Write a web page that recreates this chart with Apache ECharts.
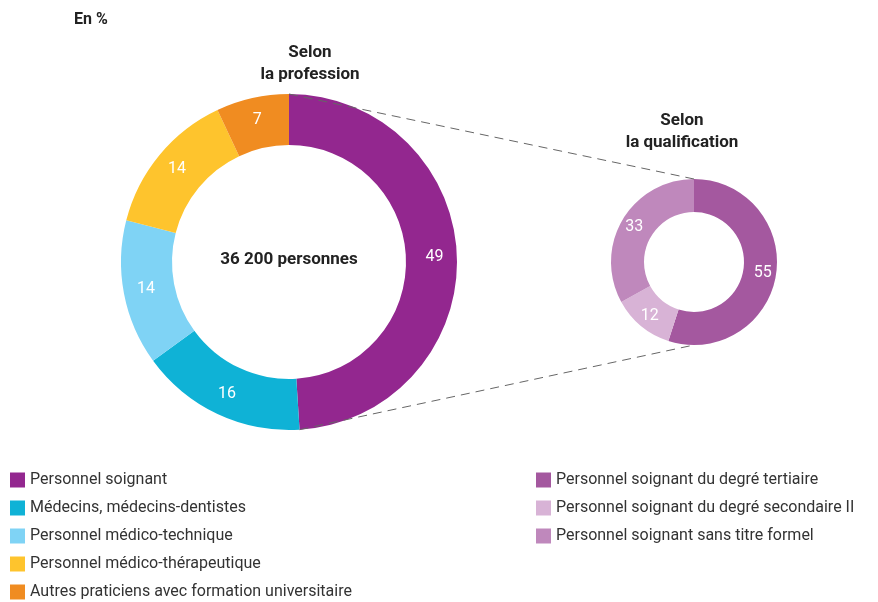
<!DOCTYPE html>
<html>
<head>
<meta charset="utf-8">
<script src="https://cdn.jsdelivr.net/npm/echarts@6/dist/echarts.min.js"></script>
<style>
	html, body { margin: 0; padding: 0; background: #fff; }
	#chart { width: 878px; height: 602px; }
</style>
</head>
<body>
<div id="chart"></div>
<script>
const professions = [
	'Personnel soignant',
	'Médecins, médecins-dentistes',
	'Personnel médico-technique',
	'Personnel médico-thérapeutique',
	'Autres praticiens avec formation universitaire'
]
const professionValues = [49, 16, 14, 14, 7]
const professionColors = ['#93278f', '#0fb2d6', '#7fd3f5', '#fec42d', '#f08c21']

const qualifications = [
	'Personnel soignant du degré tertiaire',
	'Personnel soignant du degré secondaire II',
	'Personnel soignant sans titre formel'
]
const qualificationValues = [55, 12, 33]
const qualificationColors = ['#a4589f', '#d8b3d6', '#bf88bc']

const font = 'Roboto, sans-serif'

// geometry of both rings
const big = { cx: 289, cy: 262, r: 168, r0: 117 }
const small = { cx: 694, cy: 262, r: 83, r0: 50 }

const node = document.getElementById('chart')
const myChart = echarts.init(node)

const ringLabel = {
	show: true,
	position: 'inside',
	formatter: '{c}',
	color: '#fff',
	fontSize: 16,
	fontFamily: font
}

// end of the first slice (Personnel soignant) on the outer edge
const total = professionValues.reduce((a, b) => a + b, 0)
const endAngle = (90 - professionValues[0] / total * 360) * Math.PI / 180
const endX = big.cx + big.r * Math.cos(endAngle)
const endY = big.cy - big.r * Math.sin(endAngle)

const dashed = (x1, y1, x2, y2) => ({
	type: 'line',
	shape: { x1, y1, x2, y2 },
	style: { stroke: '#666', lineWidth: 1, lineDash: [9, 6] },
	z: 10
})

const legendText = { fontSize: 16, lineHeight: 16, color: '#333', fontFamily: font }

const option = {
	animation: false,
	textStyle: { fontFamily: font },
	legend: [
		{
			orient: 'vertical',
			left: 10,
			top: 472,
			padding: 0,
			itemWidth: 15,
			itemHeight: 15,
			itemGap: 12,
			icon: 'rect',
			textStyle: legendText,
			data: professions
		},
		{
			orient: 'vertical',
			left: 536,
			top: 472,
			padding: 0,
			itemWidth: 15,
			itemHeight: 15,
			itemGap: 12,
			icon: 'rect',
			textStyle: legendText,
			data: qualifications
		}
	],
	graphic: [
		{ type: 'text', x: 74, y: 12, style: { text: 'En %', fontSize: 16, fontWeight: 'bold', fill: '#222', fontFamily: font } },
		{ type: 'text', x: 310, y: 42, style: { text: 'Selon\nla profession', fontSize: 17, fontWeight: 'bold', lineHeight: 22, align: 'center', fill: '#222', fontFamily: font } },
		{ type: 'text', x: 682, y: 110, style: { text: 'Selon\nla qualification', fontSize: 17, fontWeight: 'bold', lineHeight: 22, align: 'center', fill: '#222', fontFamily: font } },
		{ type: 'text', x: big.cx, y: big.cy - 2, style: { text: '36 200 personnes', fontSize: 17, fontWeight: 'bold', align: 'center', verticalAlign: 'middle', fill: '#222', fontFamily: font } },
		dashed(big.cx, big.cy - big.r, small.cx, small.cy - small.r),
		dashed(endX, endY, small.cx, small.cy + small.r)
	],
	series: [
		{
			name: 'Selon la profession',
			type: 'pie',
			center: [big.cx, big.cy],
			radius: [big.r0, big.r],
			startAngle: 90,
			clockwise: true,
			label: ringLabel,
			labelLine: { show: false },
			data: professions.map((name, i) => ({
				name,
				value: professionValues[i],
				itemStyle: { color: professionColors[i] }
			}))
		},
		{
			name: 'Selon la qualification',
			type: 'pie',
			center: [small.cx, small.cy],
			radius: [small.r0, small.r],
			startAngle: 90,
			clockwise: true,
			label: ringLabel,
			labelLine: { show: false },
			data: qualifications.map((name, i) => ({
				name,
				value: qualificationValues[i],
				itemStyle: { color: qualificationColors[i] }
			}))
		}
	]
}

myChart.setOption(option)
</script>
</body>
</html>
